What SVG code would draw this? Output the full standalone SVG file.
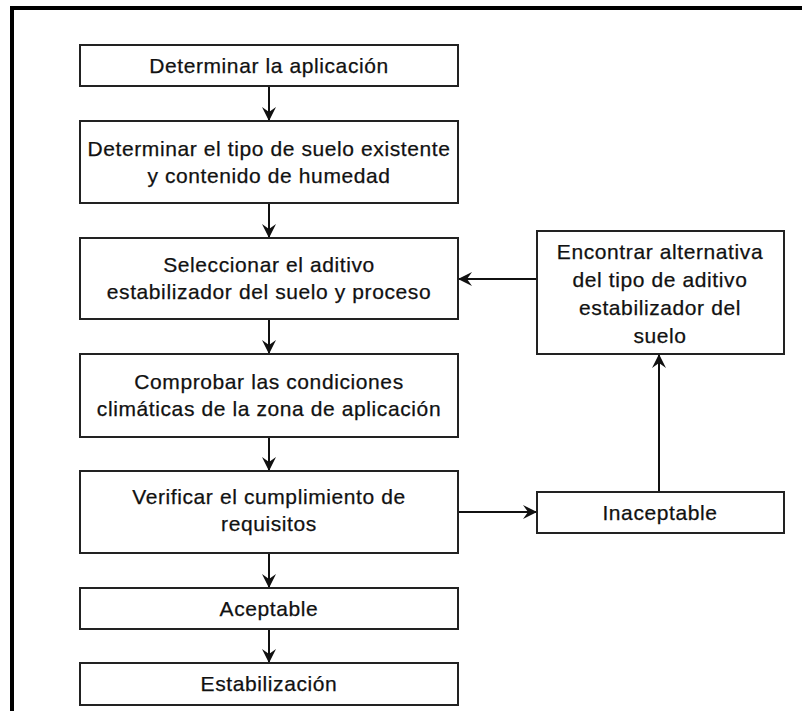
<svg xmlns="http://www.w3.org/2000/svg" width="802" height="711" viewBox="0 0 802 711">
<defs>
<marker id="ah" markerUnits="userSpaceOnUse" markerWidth="16" markerHeight="16" refX="15" refY="8" orient="auto" viewBox="0 0 16 16">
<path d="M15,8 L1,1 L6,8 L1,15 Z" fill="#111"/>
</marker>
<style>
.box{fill:#fff;stroke:#222;stroke-width:2}
.t{font-family:"Liberation Sans",Arial,sans-serif;font-size:21px;letter-spacing:0.6px;fill:#111;stroke:#111;stroke-width:0.25;text-anchor:middle}
.c{fill:none;stroke:#111;stroke-width:2}
</style>
</defs>
<rect width="802" height="711" fill="#fff"/>
<path d="M12,715 L12,8 L806,8" fill="none" stroke="#000" stroke-width="4"/>
<g id="connectors">
<path class="c" d="M269,86 L269,121" marker-end="url(#ah)"/>
<path class="c" d="M269,203 L269,238" marker-end="url(#ah)"/>
<path class="c" d="M269,319 L269,354" marker-end="url(#ah)"/>
<path class="c" d="M269,437 L269,471" marker-end="url(#ah)"/>
<path class="c" d="M269,553 L269,588" marker-end="url(#ah)"/>
<path class="c" d="M269,629 L269,663" marker-end="url(#ah)"/>
<path class="c" d="M458,512 L537,512" marker-end="url(#ah)"/>
<path class="c" d="M659,492 L659,354" marker-end="url(#ah)"/>
<path class="c" d="M537,279 L458,279" marker-end="url(#ah)"/>
</g>
<g id="n1"><rect class="box" x="80" y="45" width="378" height="41"/><text class="t" x="269" y="73">Determinar la aplicación</text></g>
<g id="n2"><rect class="box" x="80" y="121" width="378" height="82"/><text class="t" x="269" y="156">Determinar el tipo de suelo existente</text><text class="t" x="269" y="183">y contenido de humedad</text></g>
<g id="n3"><rect class="box" x="80" y="238" width="378" height="81"/><text class="t" x="269" y="272">Seleccionar el aditivo</text><text class="t" x="269" y="299">estabilizador del suelo y proceso</text></g>
<g id="n4"><rect class="box" x="80" y="354" width="378" height="83"/><text class="t" x="269" y="389">Comprobar las condiciones</text><text class="t" x="269" y="416">climáticas de la zona de aplicación</text></g>
<g id="n5"><rect class="box" x="80" y="471" width="378" height="82"/><text class="t" x="269" y="504">Verificar el cumplimiento de</text><text class="t" x="269" y="531">requisitos</text></g>
<g id="n6"><rect class="box" x="80" y="588" width="378" height="41"/><text class="t" x="269" y="616">Aceptable</text></g>
<g id="n7"><rect class="box" x="80" y="663" width="378" height="42"/><text class="t" x="269" y="691">Estabilización</text></g>
<g id="n8"><rect class="box" x="537" y="492" width="247" height="41"/><text class="t" x="660" y="520">Inaceptable</text></g>
<g id="n9"><rect class="box" x="537" y="231" width="247" height="123"/><text class="t" x="660" y="259">Encontrar alternativa</text><text class="t" x="660" y="287">del tipo de aditivo</text><text class="t" x="660" y="315">estabilizador del</text><text class="t" x="660" y="343">suelo</text></g>
</svg>
